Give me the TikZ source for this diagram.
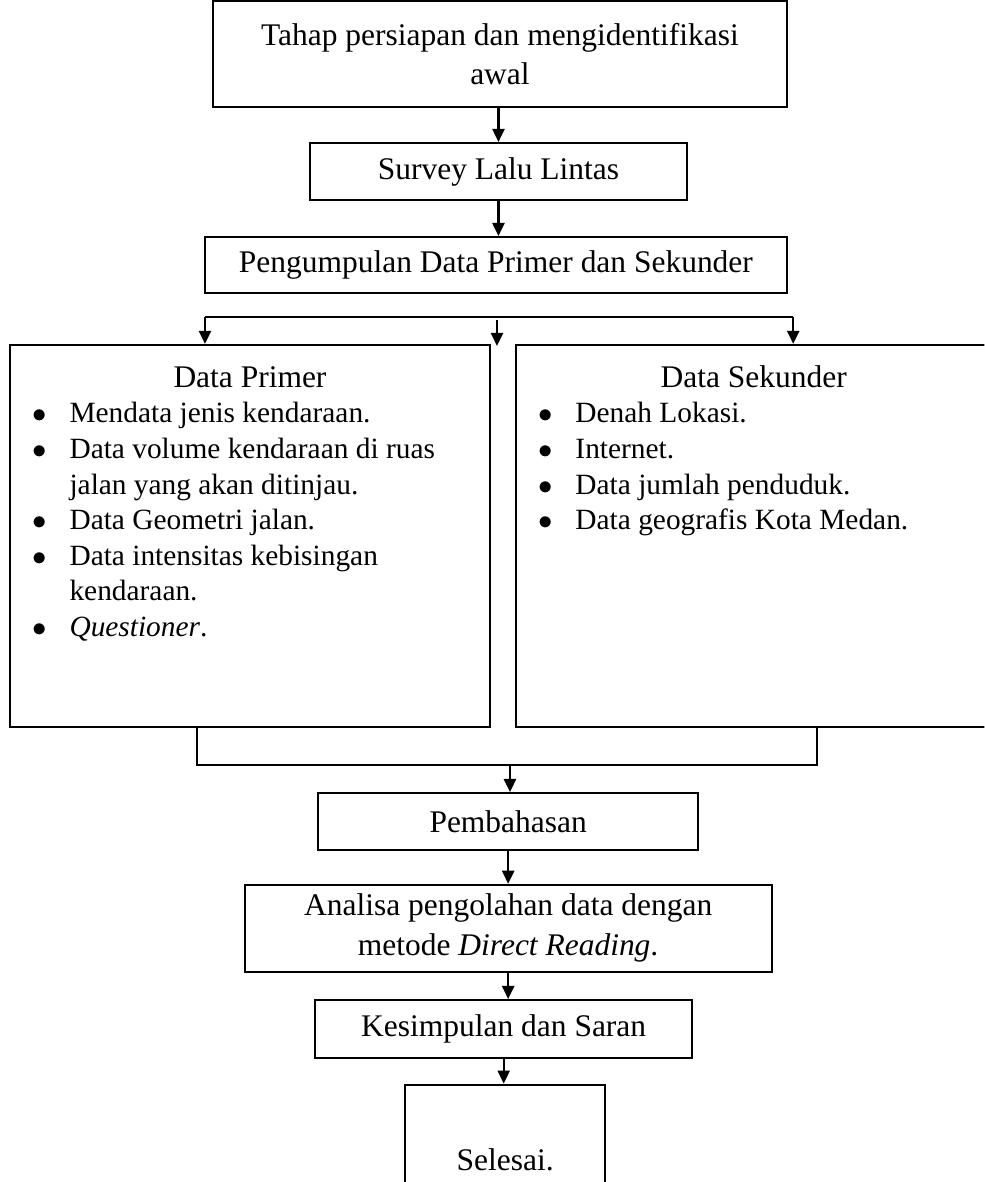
\documentclass[tikz,border=0pt]{standalone}
\usepackage{fontspec}
\setmainfont{Liberation Serif}
\usepackage{tikz}
\usetikzlibrary{arrows.meta}
\tikzstyle{kotak} = [rectangle,draw=black,line width=0.75pt,align=center,inner sep=2pt,font=\fontsize{12}{15.2}\selectfont]
\tikzstyle{judul} = [inner sep=0pt,font=\fontsize{12}{15.2}\selectfont]
\tikzstyle{daftar} = [anchor=base west,inner sep=0pt,font=\fontsize{11.2}{13.55}\selectfont]
\tikzstyle{garis} = [line width=0.8pt]
\tikzstyle{panah} = [line width=0.9pt,-{Triangle[length=5pt,width=4.6pt]}]

\begin{document}
\begin{tikzpicture}

% page = 13.19cm x 15.84cm
\clip (0,0) rectangle (13.19,-15.84);

\node (tahap)  [kotak,minimum width=7.69cm,minimum height=1.43cm,xshift=6.70cm,yshift=-0.724cm] {Tahap persiapan dan mengidentifikasi\\awal};
\node (survey) [kotak,minimum width=5.05cm,minimum height=0.764cm,xshift=6.68cm,yshift=-2.298cm] {Survey Lalu Lintas};
\node (kumpul) [kotak,minimum width=7.80cm,minimum height=0.75cm,xshift=6.646cm,yshift=-3.551cm] {Pengumpulan Data Primer dan Sekunder};

\node (primer)   [kotak,minimum width=6.43cm,minimum height=5.12cm,xshift=3.35cm,yshift=-7.182cm] {};
\node (sekunder) [kotak,minimum width=6.49cm,minimum height=5.12cm,xshift=10.157cm,yshift=-7.182cm] {};

\node (jprimer)   [judul,xshift=3.35cm,yshift=-5.052cm] {Data Primer};
\node (jsekunder) [judul,xshift=10.10cm,yshift=-5.052cm] {Data Sekunder};

\node (lprimer) [daftar,xshift=0.43cm,yshift=-5.668cm] {%
\begin{tabular}[t]{@{}p{0.495cm}@{}l@{}}
$\bullet$ & Mendata jenis kendaraan.\\
$\bullet$ & Data volume kendaraan di ruas\\
          & jalan yang akan ditinjau.\\
$\bullet$ & Data Geometri jalan.\\
$\bullet$ & Data intensitas kebisingan\\
          & kendaraan.\\
$\bullet$ & \textit{Questioner}.
\end{tabular}};
\node (lsekunder) [daftar,xshift=7.21cm,yshift=-5.668cm] {%
\begin{tabular}[t]{@{}p{0.495cm}@{}l@{}}
$\bullet$ & Denah Lokasi.\\
$\bullet$ & Internet.\\
$\bullet$ & Data jumlah penduduk.\\
$\bullet$ & Data geografis Kota Medan.
\end{tabular}};

\node (bahas)   [kotak,minimum width=5.09cm,minimum height=0.764cm,xshift=6.81cm,yshift=-11.01cm] {Pembahasan};
\node (analisa) [kotak,minimum width=7.06cm,minimum height=1.166cm,xshift=6.81cm,yshift=-12.44cm] {Analisa pengolahan data dengan\\metode \textit{Direct Reading}.};
\node (simpul)  [kotak,minimum width=5.05cm,minimum height=0.777cm,xshift=6.75cm,yshift=-13.79cm] {Kesimpulan dan Saran};
\node (selesai) [kotak,minimum width=2.68cm,minimum height=2.01cm,xshift=6.77cm,yshift=-15.54cm] {Selesai.};

% cabang dan gabung
\coordinate (kiri)   at (2.747,-4.248);
\coordinate (kanan)  at (10.63,-4.248);
\coordinate (tengah) at (6.66,-4.288);
\coordinate (ujung)  at (6.66,-4.636);
\coordinate (bkiri)  at (2.64,-9.742);
\coordinate (bkanan) at (10.95,-9.742);
\coordinate (gabung) at (6.834,-10.25);

\draw[panah] (survey.north |- tahap.south) -- (survey.north);
\draw[panah] (survey.south) -- (survey.south |- kumpul.north);

\draw[garis] (kiri) -- (kanan);
\draw[panah] (kiri) -- (kiri |- primer.north);
\draw[panah] (kanan) -- (kanan |- sekunder.north);
\draw[panah] (tengah) -- (ujung);

\draw[garis] (bkiri) |- (gabung) -| (bkanan);
\draw[panah] (gabung) -- (gabung |- bahas.north);
\draw[panah] (bahas.south) -- (bahas.south |- analisa.north);
\draw[panah] (analisa.south) -- (analisa.south |- simpul.north);
\draw[panah] (simpul.south) -- (simpul.south |- selesai.north);
\end{tikzpicture}
\end{document}
